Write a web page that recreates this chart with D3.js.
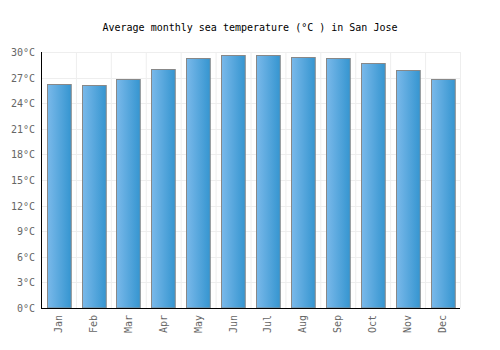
<!DOCTYPE html>
<html lang="en">
<head>
    <meta charset="UTF-8">
    <title>Sea temperature</title>
    <script src="https://cdn.jsdelivr.net/npm/d3@7/dist/d3.min.js"></script>
    <style>
        body { margin: 0; background: #fff; }
        text { font-family: "DejaVu Sans Mono", monospace; }
    </style>
</head>
<body>
    <div class="chart"></div>
</body>
<script>
    const months = ['Jan', 'Feb', 'Mar', 'Apr', 'May', 'Jun', 'Jul', 'Aug', 'Sep', 'Oct', 'Nov', 'Dec']
    const temps = [26.2, 26.1, 26.8, 28.0, 29.3, 29.7, 29.6, 29.4, 29.3, 28.7, 27.9, 26.8]
    const yTicks = [0, 3, 6, 9, 12, 15, 18, 21, 24, 27, 30]

    const width = 500
    const height = 350
    const margin = { top: 52, right: 40, bottom: 42, left: 41 }

    const svg = d3.select('.chart')
        .append('svg')
        .attr('width', width)
        .attr('height', height)

    const defs = svg.append('defs')
    const grad = defs.append('linearGradient')
        .attr('id', 'barGrad')
        .attr('x1', '0%').attr('x2', '100%')
        .attr('y1', '0%').attr('y2', '0%')
    grad.append('stop').attr('offset', '0%').attr('stop-color', '#7ab9ea')
    grad.append('stop').attr('offset', '100%').attr('stop-color', '#3595d0')

    const x = d3.scaleBand()
        .domain(months)
        .range([margin.left, width - margin.right])
        .paddingInner(0.32)
        .paddingOuter(0.16)

    const y = d3.scaleLinear()
        .domain([0, 30])
        .range([height - margin.bottom, margin.top])

    // title
    svg.append('text')
        .attr('x', 250)
        .attr('y', 31)
        .attr('text-anchor', 'middle')
        .attr('font-size', '10px')
        .attr('fill', '#000')
        .text('Average monthly sea temperature (°C ) in San Jose')

    // grid
    const bandStep = (width - margin.right - margin.left) / months.length
    svg.append('g')
        .selectAll('line')
        .data(d3.range(months.length + 1))
        .join('line')
        .attr('x1', i => margin.left + i * bandStep + 0.5)
        .attr('x2', i => margin.left + i * bandStep + 0.5)
        .attr('y1', margin.top)
        .attr('y2', height - margin.bottom)
        .attr('stroke', '#eeeeee')

    svg.append('g')
        .selectAll('line')
        .data(yTicks)
        .join('line')
        .attr('x1', margin.left)
        .attr('x2', width - margin.right)
        .attr('y1', d => Math.round(y(d)) + 0.5)
        .attr('y2', d => Math.round(y(d)) + 0.5)
        .attr('stroke', '#eeeeee')

    // bars
    svg.append('g')
        .selectAll('rect')
        .data(temps)
        .join('rect')
        .attr('x', (d, i) => Math.round(x(months[i])) + 0.5)
        .attr('y', d => Math.round(y(d)) + 0.5)
        .attr('width', x.bandwidth())
        .attr('height', d => y(0) - Math.round(y(d)) - 0.5)
        .attr('fill', 'url(#barGrad)')
        .attr('stroke', '#888888')
        .attr('stroke-width', 1)

    // axes lines
    svg.append('line')
        .attr('x1', margin.left + 0.5).attr('x2', margin.left + 0.5)
        .attr('y1', margin.top).attr('y2', height - margin.bottom + 0.5)
        .attr('stroke', '#000')
    svg.append('line')
        .attr('x1', margin.left).attr('x2', width - margin.right)
        .attr('y1', height - margin.bottom + 0.5).attr('y2', height - margin.bottom + 0.5)
        .attr('stroke', '#000')

    // y labels
    svg.append('g')
        .selectAll('text')
        .data(yTicks)
        .join('text')
        .attr('x', margin.left - 6)
        .attr('y', d => y(d) + 4)
        .attr('text-anchor', 'end')
        .attr('font-size', '10px')
        .attr('fill', '#666')
        .text(d => d + '°C')

    // x labels
    svg.append('g')
        .selectAll('text')
        .data(months)
        .join('text')
        .attr('transform', d => `translate(${x(d) + x.bandwidth() / 2 + 3.5}, ${height - margin.bottom + 7}) rotate(-90)`)
        .attr('text-anchor', 'end')
        .attr('font-size', '10px')
        .attr('fill', '#666')
        .text(d => d)
</script>
</html>
